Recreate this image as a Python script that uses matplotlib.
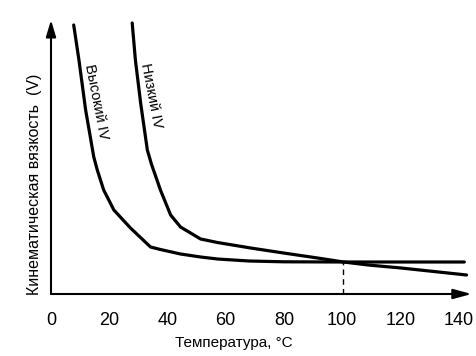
import matplotlib
matplotlib.use("Agg")
import matplotlib.pyplot as plt

plt.rcParams['font.family'] = ['Liberation Sans', 'DejaVu Sans']

# Data (temperature °C, viscosity in arbitrary units)
high_t = [7.8, 9.6, 11.9, 14.7, 15.9, 18.1, 21.6, 27.3, 34.2, 37.6, 44.5, 51.4, 57.2, 68.0, 80.0, 100.5, 142.0]
high_v = [26.9, 23.4, 18.4, 13.7, 12.4, 10.4, 8.4, 6.6, 4.7, 4.45, 4.0, 3.7, 3.5, 3.3, 3.22, 3.2, 3.2]

low_t = [27.9, 29.0, 30.8, 33.1, 34.5, 37.6, 41.1, 44.5, 51.4, 57.2, 68.6, 79.9, 91.6, 100.5, 109.0, 120.3, 142.8]
low_v = [27.1, 23.4, 19.1, 14.4, 13.0, 10.4, 7.9, 6.7, 5.5, 5.15, 4.6, 4.1, 3.6, 3.2, 2.9, 2.6, 1.9]

cross_t = 100.5
cross_v = 3.2

xticks = [0, 20, 40, 60, 80, 100, 120, 140]
xlabel = "Температура, °C"
ylabel = "Кинематическая вязкость  (V)"
high_label = "Высокий IV"
low_label = "Низкий IV"

fig = plt.figure(figsize=(4.76, 3.56), dpi=100)
ax = fig.add_axes([51/476, 62/356, 422/476, 280/356])
ax.set_xlim(0, 145)
ax.set_ylim(0, 28)
for s in ax.spines.values():
    s.set_visible(False)

ax.plot(high_t, high_v, color='black', lw=2.3, solid_capstyle='round', solid_joinstyle='round')
ax.plot(low_t, low_v, color='black', lw=2.3, solid_capstyle='round', solid_joinstyle='round')
ax.plot([cross_t, cross_t], [0, cross_v], color='black', lw=1.0, ls=(0, (4, 3)))

# axes arrows
ax.annotate('', xy=(144.5, 0), xytext=(0, 0), xycoords='data',
            arrowprops=dict(arrowstyle='-|>,head_length=1.1,head_width=0.3', color='black', lw=1.5,
                            shrinkA=0, shrinkB=0), annotation_clip=False)
ax.annotate('', xy=(0, 27.4), xytext=(0, 0), xycoords='data',
            arrowprops=dict(arrowstyle='-|>,head_length=1.0,head_width=0.3', color='black', lw=1.5,
                            shrinkA=0, shrinkB=0), annotation_clip=False)

ax.set_xticks(xticks)
ax.set_xticklabels([str(t) for t in xticks], fontsize=13)
ax.tick_params(axis='x', length=0, pad=13)
ax.set_yticks([])
ax.set_xlabel(xlabel, fontsize=11)
ax.xaxis.set_label_coords(0.434, -0.15)
ax.set_ylabel(ylabel, fontsize=11.5)
ax.yaxis.set_label_coords(-0.022, 0.39)

ax.text(15.6, 19.2, high_label, rotation=-79, fontsize=10.5, ha='center', va='center', rotation_mode='anchor')
ax.text(34.6, 19.8, low_label, rotation=-79, fontsize=10.5, ha='center', va='center', rotation_mode='anchor')

fig.savefig('out.png', dpi=100)
